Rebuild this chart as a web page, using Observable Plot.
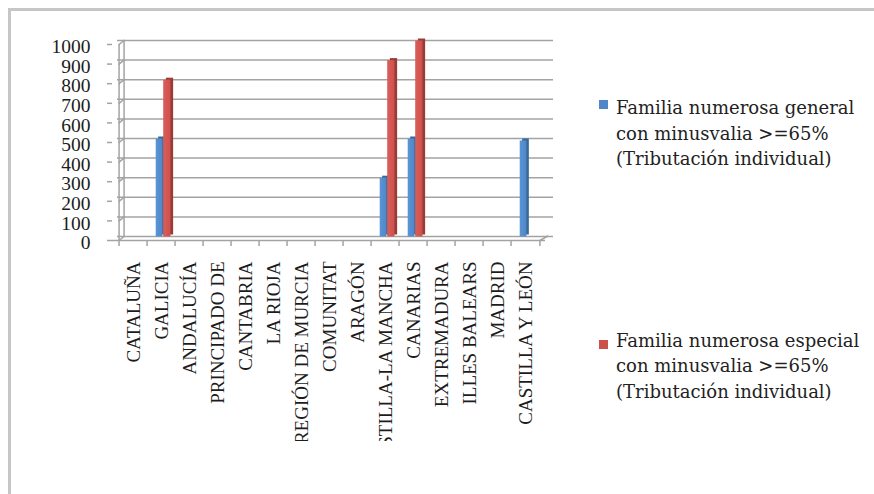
<!DOCTYPE html>
<html><head><meta charset="utf-8">
<script src="https://cdn.jsdelivr.net/npm/d3@7"></script>
<script src="https://cdn.jsdelivr.net/npm/@observablehq/plot@0.6"></script>
<style>
html,body{margin:0;padding:0;background:#fff;}
#wrap{position:relative;width:874px;height:494px;overflow:hidden;background:#fff;}
#chart{position:absolute;left:0;top:0;}
#border{position:absolute;left:8px;top:8px;width:900px;height:600px;border-top:3px solid #c6c6c6;border-left:3px solid #c6c6c6;pointer-events:none;}
.leg{position:absolute;left:616px;font-family:"DejaVu Serif",serif;font-size:18px;line-height:25.6px;color:#222;white-space:nowrap;}
.sw{position:absolute;left:599px;width:9px;height:9px;}
</style></head><body>
<div id="wrap">
  <div id="chart"></div>
  <div class="sw" id="sw1" style="top:100px"></div>
  <div class="leg" id="l1" style="top:95.3px"></div>
  <div class="sw" id="sw2" style="top:340px"></div>
  <div class="leg" id="l2" style="top:327.7px"></div>
  <div id="border"></div>
</div>
<script>
const categories = ["CATALUÑA","GALICIA","ANDALUCÍA","PRINCIPADO DE","CANTABRIA","LA RIOJA","REGIÓN DE MURCIA","COMUNITAT","ARAGÓN","CASTILLA-LA MANCHA","CANARIAS","EXTREMADURA","ILLES BALEARS","MADRID","CASTILLA Y LEÓN"];
const generalValues  = [0, 500, 0, 0, 0, 0, 0, 0, 0, 300, 500, 0, 0, 0, 490];
const especialValues = [0, 800, 0, 0, 0, 0, 0, 0, 0, 900, 1000, 0, 0, 0, 0];
const yTicks = [0, 100, 200, 300, 400, 500, 600, 700, 800, 900, 1000];
const seriesNames = [
  ["Familia numerosa general", "con minusvalia >=65%", "(Tributación individual)"],
  ["Familia numerosa especial", "con minusvalia >=65%", "(Tributación individual)"]
];
const colors = {blue:"#4f87c8", blueLight:"#5b95d6", blueSide:"#3a6799", red:"#cc514d", redLight:"#dc5d58", redSide:"#9b3b38"};

const W = 874, H = 441, mL = 112, mR = 329, mT = 44, mB = 201;
const step = (W - mL - mR) / categories.length;
const grid = "#a3a3a3";

const generalData = categories.map((c, i) => ({category: c, value: generalValues[i]})).filter(d => d.value > 0);
const especialData = categories.map((c, i) => ({category: c, value: especialValues[i]})).filter(d => d.value > 0);

const chart = Plot.plot({
  width: W, height: H,
  marginLeft: mL, marginRight: mR, marginTop: mT, marginBottom: mB,
  style: {fontFamily: "'Liberation Serif', serif", color: "#1c1c1c", background: "transparent"},
  x: {type: "band", domain: categories, padding: 0, axis: null, label: null},
  y: {domain: [0, 1000], axis: null, label: null},
  marks: [
    // back wall gridlines
    Plot.ruleY(yTicks, {y: d => d, dx: 5, dy: -4, insetRight: -3, stroke: grid, strokeWidth: 1.5}),
    // back wall vertical edge
    Plot.ruleX([categories[0]], {x: d => d, dx: -step / 2 + 5, dy: -4, y1: 0, y2: 1000, stroke: grid, strokeWidth: 1.5}),
    // front vertical axis
    Plot.ruleX([categories[0]], {x: d => d, dx: -step / 2, y1: 0, y2: 1000, stroke: grid, strokeWidth: 1.5}),
    // front floor edge
    Plot.ruleY([0], {y: d => d, stroke: grid, strokeWidth: 1.5}),
    // depth connectors on the left
    Plot.vector(yTicks, {x: () => categories[0], y: d => d, dx: -step / 2, anchor: "start", shape: "spike", r: 0, length: 6.8, rotate: 51, stroke: grid, strokeWidth: 1.5}),
    // depth connector at bottom right
    Plot.vector([0], {x: () => categories[categories.length - 1], y: d => d, dx: step / 2, anchor: "start", shape: "spike", r: 0, length: 9, rotate: 60, stroke: grid, strokeWidth: 1.5}),
    // category boundary ticks
    Plot.ruleX(categories, {x: d => d, dx: -step / 2, y1: 0, y2: -31, stroke: grid, strokeWidth: 1.5}),
    Plot.ruleX([categories[categories.length - 1]], {x: d => d, dx: step / 2, y1: 0, y2: -31, stroke: grid, strokeWidth: 1.5}),
    // y ticks
    Plot.axisY({ticks: yTicks, tickSize: 5, tickFormat: () => "", label: null, stroke: grid, strokeWidth: 1.5}),
    Plot.axisY({ticks: yTicks, tickSize: 0, tickPadding: 22, dy: 2.5, label: null, tickFormat: d3.format("d"), fontSize: 19.5, fill: "#1c1c1c"}),
    // x labels
    Plot.axisX({tickSize: 0, tickRotate: -90, tickPadding: 21, label: null, fontSize: 19, fill: "#1c1c1c"}),
    // bars: general
    Plot.barY(generalData, {x: "category", y: "value", insetLeft: 8.7 + 2.5, insetRight: step - 16.2 - 2.5, dy: -5.5, fill: colors.blueSide}),
    Plot.barY(generalData, {x: "category", y: "value", insetLeft: 8.7, insetRight: step - 16.2, dy: -3.5, fill: "url(#gradBlue)"}),
    // bars: especial
    Plot.barY(especialData, {x: "category", y: "value", insetLeft: 16.2 + 2.7, insetRight: step - 24.3 - 2.7, dy: -5.5, fill: colors.redSide}),
    Plot.barY(especialData, {x: "category", y: "value", insetLeft: 16.2, insetRight: step - 24.3, dy: -3.5, fill: "url(#gradRed)"})
  ]
});

// gradients for bar faces
const ns = "http://www.w3.org/2000/svg";
const defs = document.createElementNS(ns, "defs");
[["gradBlue", colors.blueLight, colors.blue], ["gradRed", colors.redLight, colors.red]].forEach(([id, c1, c2]) => {
  const g = document.createElementNS(ns, "linearGradient");
  g.setAttribute("id", id);
  g.setAttribute("x1", "0"); g.setAttribute("x2", "1"); g.setAttribute("y1", "0"); g.setAttribute("y2", "0");
  [["0%", c1], ["100%", c2]].forEach(([o, c]) => {
    const s = document.createElementNS(ns, "stop");
    s.setAttribute("offset", o); s.setAttribute("stop-color", c);
    g.appendChild(s);
  });
  defs.appendChild(g);
});
chart.insertBefore(defs, chart.firstChild);
document.getElementById("chart").appendChild(chart);

document.getElementById("sw1").style.background = colors.blue;
document.getElementById("sw2").style.background = colors.red;
document.getElementById("l1").innerHTML = seriesNames[0].join("<br>");
document.getElementById("l2").innerHTML = seriesNames[1].join("<br>");
</script>
</body></html>
